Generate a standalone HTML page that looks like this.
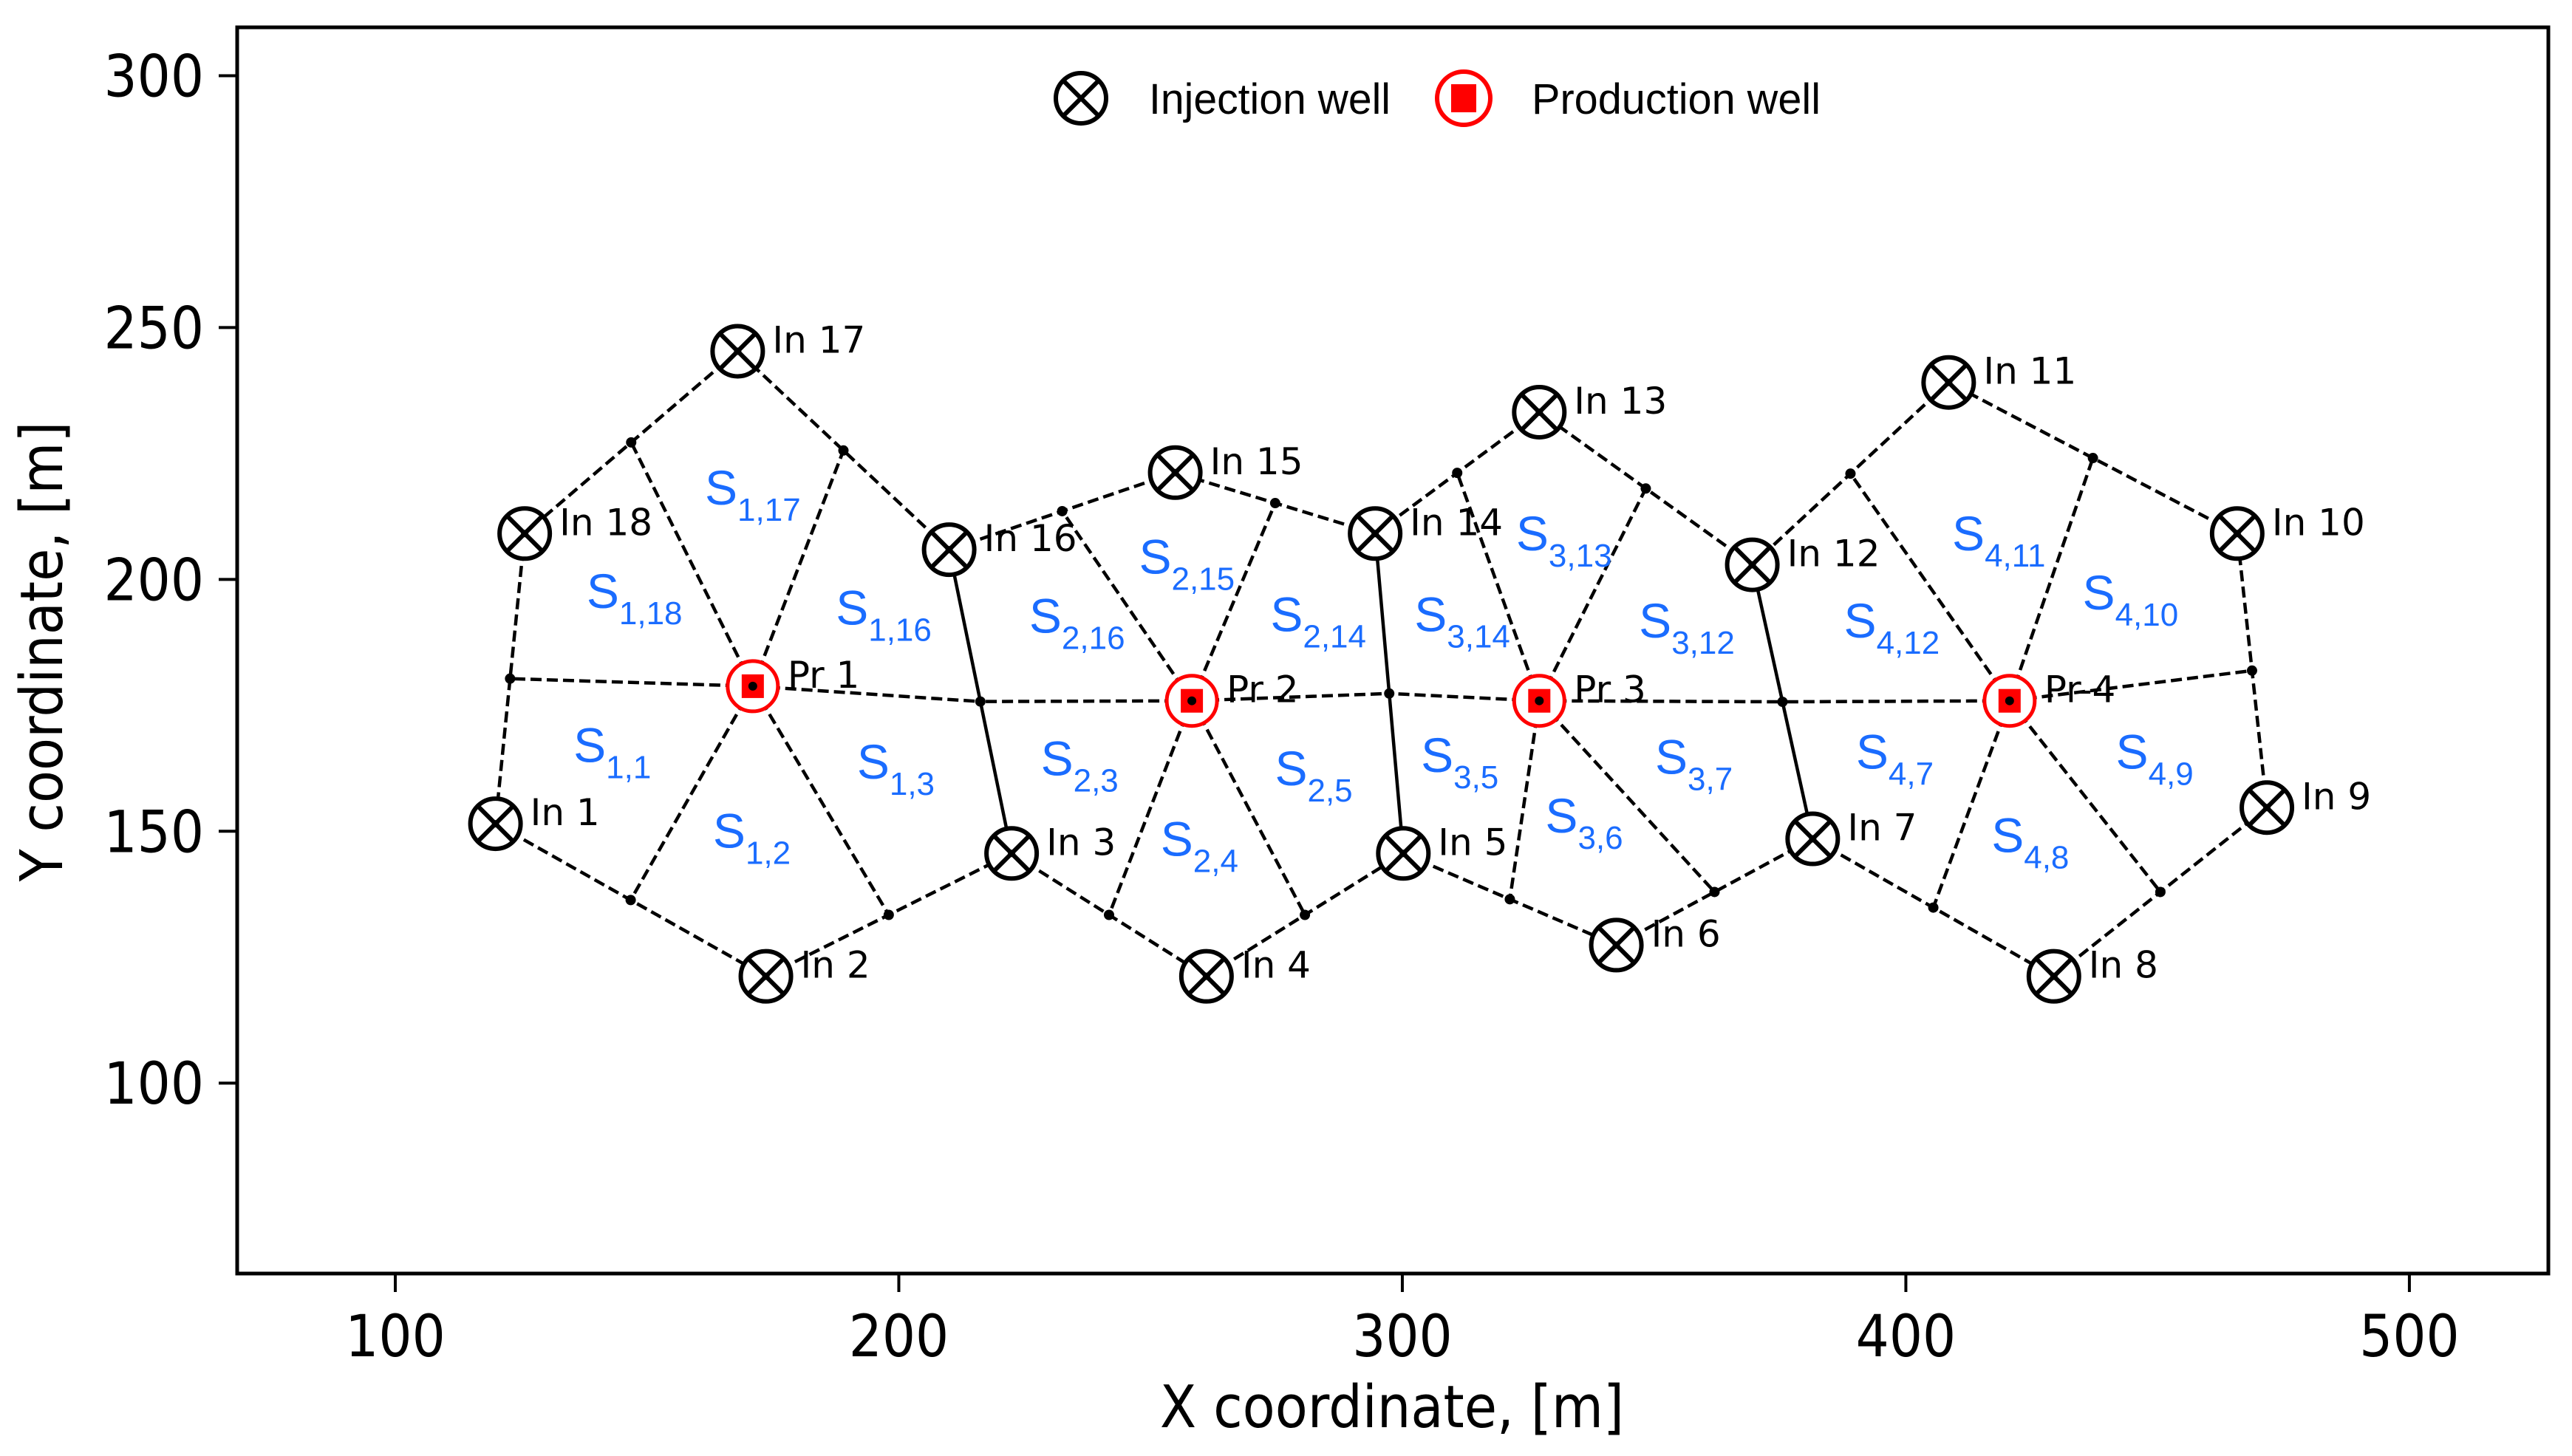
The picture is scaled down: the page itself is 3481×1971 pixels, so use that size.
<!DOCTYPE html>
<html><head><meta charset="utf-8"><style>
html,body{margin:0;padding:0;background:#fff;}
svg{display:block;}
</style></head><body>
<svg id="chart" xmlns="http://www.w3.org/2000/svg" width="3481" height="1971" viewBox="0 0 3481 1971">
<rect x="0" y="0" width="3481" height="1971" fill="#fff"/>
<g id="lines"></g>
<g id="dots"></g>
<g id="labels"></g>
<g id="wells"></g>
<g id="axes"></g>
<g id="legend">
  <g transform="translate(1463,133)">
    <circle r="34" fill="none" stroke="#000" stroke-width="6"/>
    <line x1="-24" y1="-24" x2="24" y2="24" stroke="#000" stroke-width="6"/>
    <line x1="-24" y1="24" x2="24" y2="-24" stroke="#000" stroke-width="6"/>
  </g>
  <text x="1555" y="154" font-family="Liberation Sans, sans-serif" font-size="58" textLength="327" lengthAdjust="spacingAndGlyphs">Injection well</text>
  <g transform="translate(1981,133)">
    <circle r="36" fill="none" stroke="#f00" stroke-width="6"/>
    <rect x="-17" y="-19" width="34" height="38" fill="#f00"/>
  </g>
  <text x="2073" y="154" font-family="Liberation Sans, sans-serif" font-size="58" textLength="391" lengthAdjust="spacingAndGlyphs">Production well</text>
</g>
</svg>
<script>
// ---- data ----
const injNames = ["In 1","In 2","In 3","In 4","In 5","In 6","In 7","In 8","In 9","In 10","In 11","In 12","In 13","In 14","In 15","In 16","In 17","In 18"];
const injX = [119.9,173.6,222.4,261.1,300.2,342.5,381.5,429.4,471.7,465.8,408.5,369.5,327.2,294.6,254.9,210.0,168.0,125.7];
const injY = [151.5,121.2,145.6,121.2,145.6,127.4,148.5,121.2,154.7,209.1,239.1,202.9,233.2,209.1,221.2,205.9,245.3,209.1];
const prodNames = ["Pr 1","Pr 2","Pr 3","Pr-4"];
const prodX = [171.0,258.2,327.2,420.6];
const prodY = [178.8,175.9,175.9,175.9];
const rings = [[1,2,3,16,17,18],[3,4,5,14,15,16],[5,6,7,12,13,14],[7,8,9,10,11,12]];
const sharedEdges = [[3,16],[5,14],[7,12]];
const sLabelNames = ["1,17","1,18","1,16","1,1","1,2","1,3","2,15","2,16","2,14","2,3","2,4","2,5","3,13","3,14","3,12","3,5","3,6","3,7","4,11","4,12","4,10","4,7","4,8","4,9"];
const sLabelX = [170.0,146.5,196.0,143.9,171.6,200.2,256.2,234.4,282.3,236.7,260.5,283.2,331.1,310.9,355.5,312.2,336.9,358.7,417.7,396.2,443.6,398.6,425.5,450.2];
const sLabelY = [216.6,196.1,192.8,165.5,148.5,162.2,202.9,191.2,191.5,162.9,146.9,160.9,207.5,191.5,190.2,163.5,151.5,163.2,207.5,190.2,195.8,164.2,147.6,164.2];
const xTicks = [100,200,300,400,500];
const yTicks = [100,150,200,250,300];

// ---- axes functions ----
const PL=321, PR=3449, PT=37, PB=1724;
const X0=68.6, X1=527.6, Y0=62.2, Y1=309.6;
const sx = v => PL + (v - X0) / (X1 - X0) * (PR - PL);
const sy = v => PB - (v - Y0) / (Y1 - Y0) * (PB - PT);
const NS = "http://www.w3.org/2000/svg";
function mk(tag, attrs, parent){ const e=document.createElementNS(NS,tag); for(const k in attrs) e.setAttribute(k,attrs[k]); parent.appendChild(e); return e; }
const gL=document.getElementById('lines'), gD=document.getElementById('dots'), gS=document.getElementById('labels'), gW=document.getElementById('wells'), gA=document.getElementById('axes');
const isShared=(a,b)=>sharedEdges.some(e=>(e[0]===a&&e[1]===b)||(e[0]===b&&e[1]===a));
const drawnMid = {};
rings.forEach((ring,pi)=>{
  const px=sx(prodX[pi]), py=sy(prodY[pi]);
  for(let k=0;k<ring.length;k++){
    const a=ring[k], b=ring[(k+1)%ring.length];
    const ax=sx(injX[a-1]), ay=sy(injY[a-1]), bx=sx(injX[b-1]), by=sy(injY[b-1]);
    const sh=isShared(a,b);
    const key=Math.min(a,b)+'-'+Math.max(a,b);
    if(!drawnMid[key]){
      const ln=mk('line',{x1:ax,y1:ay,x2:bx,y2:by,stroke:'#000','stroke-width':4.5,'stroke-dasharray':sh?'none':'15 7'},gL);
      
      
    }
    const mx=(ax+bx)/2, my=(ay+by)/2;
    const sp=mk('line',{x1:px,y1:py,x2:mx,y2:my,stroke:'#000','stroke-width':4.5,'stroke-dasharray':'15 7'},gL);
    
    
    if(!drawnMid[key]){
      const d=mk('circle',{cx:mx,cy:my,r:7,fill:'#000'},gD);
      
      
      drawnMid[key]=1;
    }
  }
});
sLabelNames.forEach((n,i)=>{
  const t=mk('text',{x:sx(sLabelX[i])-58,y:sy(sLabelY[i])+12,fill:'#1a6cff','font-family':'Liberation Sans, sans-serif','font-size':66},gS);
  
  
  t.appendChild(document.createTextNode('S'));
  const sub=mk('tspan',{dy:22,'font-size':44},t);
  sub.textContent=n;
});
injNames.forEach((n,i)=>{
  const cx=sx(injX[i]), cy=sy(injY[i]);
  const g=mk('g',{transform:`translate(${cx},${cy})`},gW);
  
  
  mk('circle',{r:34,fill:'#fff',stroke:'#000','stroke-width':6},g);
  mk('line',{x1:-24,y1:-24,x2:24,y2:24,stroke:'#000','stroke-width':6},g);
  mk('line',{x1:-24,y1:24,x2:24,y2:-24,stroke:'#000','stroke-width':6},g);
  mk('circle',{r:5,fill:'#000'},g);
  const t=mk('text',{x:cx+47,y:cy+2,'font-family':'DejaVu Sans, sans-serif','font-size':50},gW);
  
  
  t.textContent=n;
});
prodNames.forEach((n,i)=>{
  const cx=sx(prodX[i]), cy=sy(prodY[i]);
  const g=mk('g',{transform:`translate(${cx},${cy})`},gW);
  
  
  mk('circle',{r:34,fill:'#fff',stroke:'#f00','stroke-width':5},g);
  mk('rect',{x:-15,y:-16,width:30,height:32,fill:'#f00'},g);
  mk('circle',{r:6,fill:'#000'},g);
  const t=mk('text',{x:cx+47,y:cy+2,'font-family':'DejaVu Sans, sans-serif','font-size':50},gW);
  
  
  t.textContent=n;
});
const fr=mk('rect',{x:PL,y:PT,width:PR-PL,height:PB-PT,fill:'none',stroke:'#000','stroke-width':5},gA);


xTicks.forEach(v=>{
  const x=sx(v);
  const tk=mk('line',{x1:x,y1:PB,x2:x,y2:PB+25,stroke:'#000','stroke-width':4},gA);
  
  
  const t=mk('text',{transform:`translate(${x},${PB+112}) scale(1,1.1)`,'text-anchor':'middle','font-family':'DejaVu Sans, sans-serif','font-size':71},gA);
  
  
  t.textContent=v;
});
yTicks.forEach(v=>{
  const y=sy(v);
  const tk=mk('line',{x1:PL-25,y1:y,x2:PL,y2:y,stroke:'#000','stroke-width':4},gA);
  
  
  const t=mk('text',{transform:`translate(${PL-45},${y+28}) scale(1,1.1)`,'text-anchor':'end','font-family':'DejaVu Sans, sans-serif','font-size':71},gA);
  
  
  t.textContent=v;
});
const xl=mk('text',{transform:`translate(1884,1932) scale(1,1.1)`,'text-anchor':'middle','font-family':'DejaVu Sans, sans-serif','font-size':72},gA);


xl.textContent='X coordinate, [m]';
const yl=mk('text',{transform:`translate(84,882) rotate(-90) scale(1,1.1)`,'text-anchor':'middle','font-family':'DejaVu Sans, sans-serif','font-size':72},gA);


yl.textContent='Y coordinate, [m]';
</script>
</body></html>
